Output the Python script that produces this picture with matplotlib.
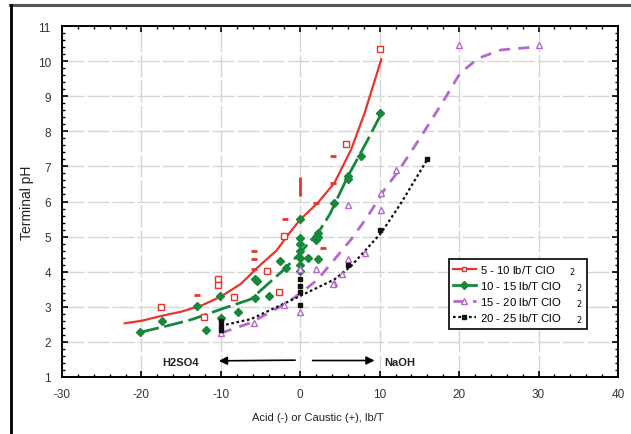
import matplotlib
matplotlib.use("Agg")
import matplotlib.pyplot as plt
from matplotlib.lines import Line2D
from matplotlib.ticker import MultipleLocator

plt.rcParams['font.family'] = ['Liberation Sans', 'DejaVu Sans']
plt.rcParams['axes.unicode_minus'] = False

# fitted curves (x = acid(-)/caustic(+) lb/T, y = terminal pH)
red_x = [-22.1, -20, -17.5, -15, -12.5, -10, -7.5, -5, -3, -1.5, 0, 2.2, 4.3, 6.4, 8.1, 10.2]
red_y = [2.53, 2.6, 2.74, 2.86, 3.03, 3.29, 3.65, 4.2, 4.6, 5.06, 5.49, 5.96, 6.53, 7.48, 8.52, 10.05]
green_x = [-20.2, -16, -13.5, -10, -6.2, -2, 0, 2.5, 3.7, 6, 8.5, 10.3]
green_y = [2.27, 2.5, 2.65, 2.93, 3.22, 4.07, 4.54, 5.2, 5.63, 6.72, 7.76, 8.55]
purple_x = [-10, -6.2, -2, 0, 2.2, 4.3, 6.4, 8.5, 10.6, 12.3, 15.2, 18.2, 20.1, 22.4, 25.3, 30]
purple_y = [2.25, 2.55, 3.07, 3.38, 3.78, 4.35, 4.92, 5.58, 6.34, 6.85, 7.85, 8.93, 9.65, 10.08, 10.32, 10.41]
black_x = [-10, -6.2, 0, 4.3, 6.4, 10.2, 12.7, 14.4, 16]
black_y = [2.46, 2.65, 3.31, 3.78, 4.16, 5.11, 5.96, 6.6, 7.2]

# measured points
red_sq_x = [-17.5, -12.1, -10.4, -10.4, -8.3, -4.2, -2.7, -2.0, 5.7, 10]
red_sq_y = [3.0, 2.71, 3.78, 3.62, 3.29, 4.02, 3.43, 5.02, 7.65, 10.35]
red_dash_x = [-13.0, -5.8, -5.8, -5.8, -1.9, 2.9, 4.1, 4.1, 2.0]
red_dash_y = [3.35, 4.59, 4.35, 4.09, 5.49, 4.68, 7.3, 6.53, 5.96]
red_bar_x = [0, 0]
red_bar_y = [6.3, 6.55]

green_pt_x = [-20.2, -17.4, -13.0, -11.9, -10.1, -10.0, -7.8, -5.7, -5.5, -5.7,
              -3.9, -2.6, -1.8, 0, 0, 0, 0, 0, 0, 0, 1.0, 2.2, 2.2, 2.0, 2.2,
              4.3, 6.0, 6.0, 7.7, 10]
green_pt_y = [2.27, 2.6, 3.03, 2.34, 3.31, 2.67, 2.84, 3.8, 3.73, 3.24,
              3.31, 4.3, 4.11, 5.49, 4.97, 4.8, 4.6, 4.4, 4.2, 4.02, 4.4, 5.11, 5.0, 4.9, 4.35,
              5.96, 6.63, 6.72, 7.29, 8.52]

purple_pt_x = [-10.0, -5.8, -2.0, 0, 0, 2.0, 4.3, 4.1, 5.2, 6.0, 6.0, 8.1, 10.2, 10.2, 12.0, 20, 30]
purple_pt_y = [2.25, 2.53, 3.05, 2.84, 4.07, 4.09, 3.67, 3.64, 3.93, 4.35, 5.91, 4.54, 5.77, 6.25, 6.9, 10.45, 10.45]

black_pt_x = [-10, -10, -10, 0, 0, 0, 0, 6.0, 10, 16]
black_pt_y = [2.35, 2.46, 2.6, 3.78, 3.6, 3.42, 3.05, 4.18, 5.2, 7.2]

labels = ['5 - 10 lb/T ClO', '10 - 15 lb/T ClO', '15 - 20 lb/T ClO', '20 - 25 lb/T ClO']

RED = '#e8352b'
GREEN = '#16883a'
PURPLE = '#b468cc'
BLACK = '#111111'

fig = plt.figure(figsize=(6.31, 4.35), dpi=100)
ax = fig.add_axes([62 / 631, 57 / 435, 556 / 631, 351 / 435])

ax.set_xlim(-30, 40)
ax.set_ylim(1, 11)
ax.xaxis.set_major_locator(MultipleLocator(10))
ax.xaxis.set_minor_locator(MultipleLocator(2))
ax.yaxis.set_major_locator(MultipleLocator(1))
ax.yaxis.set_minor_locator(MultipleLocator(0.2))
ax.tick_params(which='both', direction='in', top=True, right=True, colors='black',
               labelcolor='#333333', labelsize=8.5)
ax.tick_params(which='major', length=4, width=1.2, pad=8)
ax.tick_params(which='minor', length=2.5, width=1)
for sp in ax.spines.values():
    sp.set_linewidth(1.4)
ax.grid(True, which='major', color='#d6d6d6', linestyle=(0, (16, 2)), linewidth=1.0)
ax.set_axisbelow(True)

# curves
ax.plot(red_x, red_y, color=RED, lw=1.6, zorder=3)
ax.plot(green_x, green_y, color=GREEN, lw=2.0, linestyle=(0, (7, 2)), zorder=3)
ax.plot(purple_x, purple_y, color=PURPLE, lw=2.0, linestyle=(0, (4, 3)), zorder=3)
ax.plot(black_x, black_y, color=BLACK, lw=1.6, linestyle=(0, (1.2, 1.2)), zorder=3)

# data points
ax.plot(red_sq_x, red_sq_y, 's', ms=4, mfc='white', mec=RED, mew=1, ls='none', zorder=4)
ax.plot(red_dash_x, red_dash_y, '_', ms=5, mec=RED, mew=2, ls='none', zorder=4)
ax.plot(red_bar_x, red_bar_y, '|', ms=7, mec=RED, mew=2, ls='none', zorder=4)
ax.plot(green_pt_x, green_pt_y, 'D', ms=4, color=GREEN, ls='none', zorder=4)
ax.plot(purple_pt_x, purple_pt_y, '^', ms=4.5, mfc='white', mec=PURPLE, mew=1, ls='none', zorder=4)
ax.plot(black_pt_x, black_pt_y, 's', ms=3.5, color=BLACK, ls='none', zorder=4)

# acid / caustic arrows
ax.annotate('', xy=(-10.6, 1.46), xytext=(-0.3, 1.48),
            arrowprops=dict(arrowstyle='-|>', color='black', lw=1.2, mutation_scale=12))
ax.annotate('', xy=(9.7, 1.47), xytext=(1.2, 1.47),
            arrowprops=dict(arrowstyle='-|>', color='black', lw=1.2, mutation_scale=12))
ax.text(-15.1, 1.42, 'H2SO4', fontsize=8, fontweight='bold', ha='center', va='center', color='#222222')
ax.text(12.5, 1.42, 'NaOH', fontsize=8, fontweight='bold', ha='center', va='center', color='#222222')

# legend
handles = [
    Line2D([], [], color=RED, lw=1.6, marker='s', ms=3.5, mfc='white', mec=RED),
    Line2D([], [], color=GREEN, lw=2.0, marker='D', ms=4),
    Line2D([], [], color=PURPLE, lw=2.0, ls=(0, (4, 3)), marker='^', ms=4.5, mfc='white', mec=PURPLE),
    Line2D([], [], color=BLACK, lw=1.6, ls=(0, (1.2, 1.2)), marker='s', ms=3.5),
]
leg_labels = [s + '     $_2$' for s in labels]
leg = ax.legend(handles, leg_labels, loc='lower left', bbox_to_anchor=(0.686, 0.12),
                fontsize=8.2, frameon=True, fancybox=False, framealpha=1,
                edgecolor='black', handlelength=2.0, handletextpad=0.4,
                labelspacing=0.2, borderpad=0.35)
leg.get_frame().set_linewidth(1.2)

ax.set_ylabel('Terminal pH', fontsize=10, color='#222222')
ax.yaxis.set_label_coords(-0.05, 0.5)
fig.text(318 / 631, 1 - 418 / 435, 'Acid (-) or Caustic (+), lb/T', fontsize=8,
         ha='center', va='center', color='#222222')

# page frame
fig.add_artist(Line2D([10 / 631, 1], [1 - 6 / 435, 1 - 6 / 435], color='#555555', lw=2.2))
fig.add_artist(Line2D([11 / 631, 11 / 631], [0, 1 - 6 / 435], color='black', lw=2))

fig.savefig('out.png', dpi=100)
